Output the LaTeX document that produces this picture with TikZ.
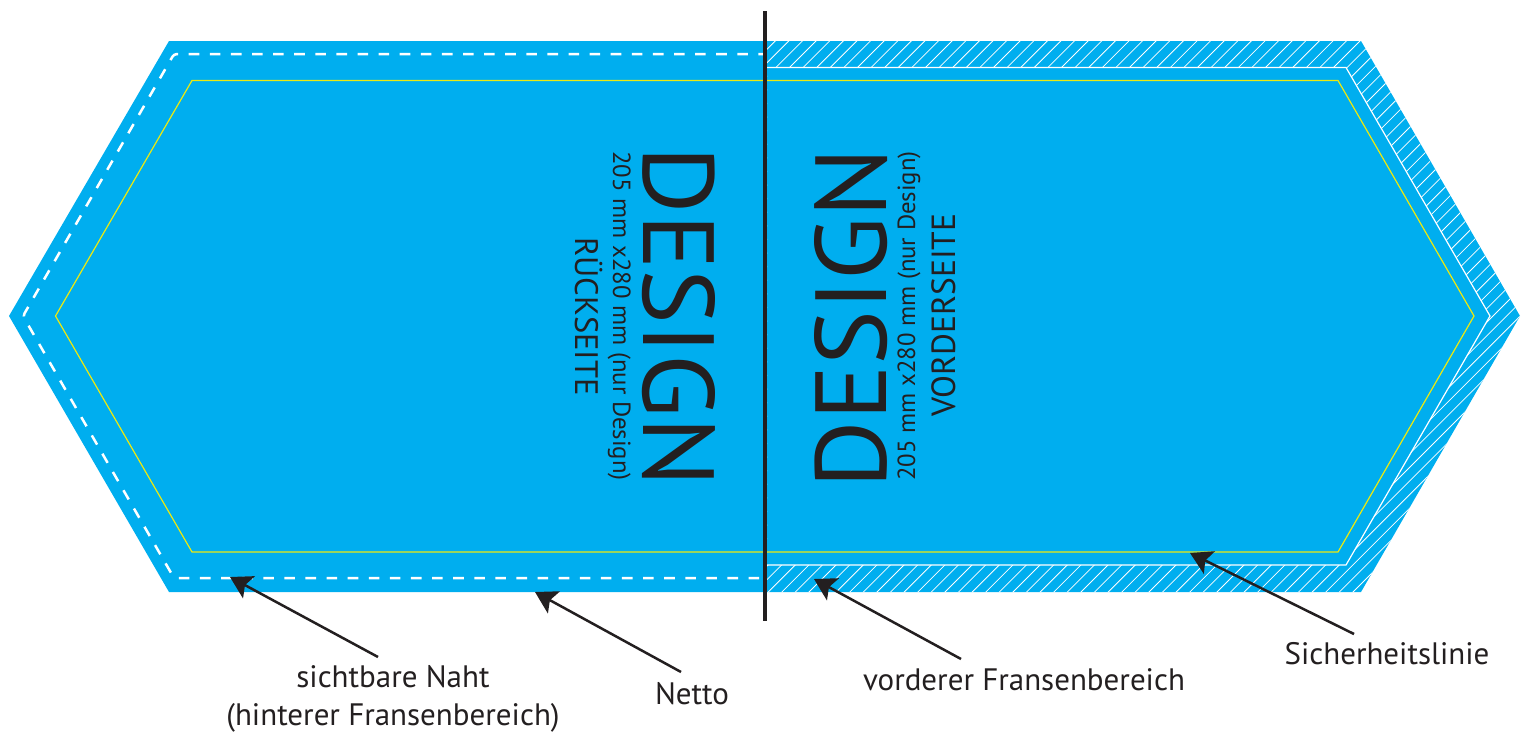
\documentclass[tikz,border=0pt]{standalone}
\usepackage{fontspec}
\setmainfont{PT Sans}
\usetikzlibrary{arrows.meta}
\definecolor{cyanfill}{HTML}{00AEEF}
\definecolor{ink}{HTML}{231F20}
\definecolor{safety}{HTML}{EDE90F}
\tikzset{
  x=1pt,y=-1pt,
  pointer/.style={draw=ink,line width=2.5pt,-{Stealth[length=21.5pt,width=25pt,inset=4.5pt]}},
  caption/.style={text=ink,font=\fontsize{31}{38}\selectfont,align=center,inner sep=0pt},
  hatchline/.style={draw=white,line width=.8pt},
  rotlabel/.style={text=ink,inner sep=0pt},
}
\begin{document}
\begin{tikzpicture}
\useasboundingbox (0,0) rectangle (1523,731);
% outer shape
\fill[cyanfill] (169,41) -- (1361,41) -- (1520,316) -- (1361,592) -- (169,592) -- (9,316) -- cycle;
% hatching in the front fringe area
\begin{scope}[even odd rule]
  \clip (767,41) -- (1361,41) -- (1520,316) -- (1361,592) -- (767,592) -- cycle
    (767,67.5) -- (1346,67.5) -- (1490,316) -- (1346,565) -- (767,565) -- cycle;
  \foreach \k in {-45,...,42}{
    \pgfmathsetmacro{\c}{1401+\k*13.6}
    \draw[hatchline] ({\c-20},20) -- ({\c-620},620);
  }
\end{scope}
\draw[white,line width=1.2pt] (767,67.5) -- (1346,67.5) -- (1490,316) -- (1346,565) -- (767,565);
% visible seam
\draw[white,line width=2.5pt,dash pattern=on 10.6pt off 10.5pt,dash phase=6pt,rounded corners=3pt]
  (763,54) -- (174,54) -- (23,316) -- (174,578) -- (763,578);
% safety line
\draw[safety,line width=1.2pt] (192,80.5) -- (1338,80.5) -- (1474,316) -- (1338,552) -- (192,552) -- (55.5,316) -- cycle;
% divider
\coordinate (divTop) at (765,11);
\coordinate (divBot) at (765,621);
\draw[ink,line width=4.5pt] (divTop) -- (divBot);
% rotated texts
\node[rotlabel,rotate=-90] (designL) at (678.5,317) {\resizebox{340pt}{72pt}{DESIGN}};
\node[rotlabel,rotate=90] (designR) at (851.5,318) {\resizebox{340pt}{72pt}{DESIGN}};
\node[rotlabel,rotate=-90,anchor=base] (sizeL) at (613,316) {\fontsize{24.8}{30}\selectfont 205 mm x280 mm (nur Design)};
\node[rotlabel,rotate=90,anchor=base] (sizeR) at (915,316) {\fontsize{24.8}{30}\selectfont 205 mm x280 mm (nur Design)};
\node[rotlabel,rotate=-90,anchor=base] (rueck) at (575,316.5) {\fontsize{32.5}{38}\selectfont RÜCKSEITE};
\node[rotlabel,rotate=90,anchor=base] (vorder) at (955,315) {\fontsize{33.5}{38}\selectfont VORDERSEITE};
% captions
\node[caption] (naht) at (393,698.5) {sichtbare Naht\\(hinterer Fransenbereich)};
\node[caption] (netto) at (692,694) {Netto};
\node[caption] (vorn) at (1024,680) {vorderer Fransenbereich};
\node[caption] (sicher) at (1387,654) {Sicherheitslinie};
% arrows
\coordinate (nahtFrom) at (378,657);
\coordinate (nahtTip) at (230,577);
\coordinate (nettoFrom) at (681,672);
\coordinate (nettoTip) at (535,592);
\coordinate (vornFrom) at (961,659);
\coordinate (vornTip) at (814,579);
\coordinate (sicherFrom) at (1354,634);
\coordinate (sicherTip) at (1190,553);
\draw[pointer] (nahtFrom) -- (nahtTip);
\draw[pointer] (nettoFrom) -- (nettoTip);
\draw[pointer] (vornFrom) -- (vornTip);
\draw[pointer] (sicherFrom) -- (sicherTip);
\end{tikzpicture}
\end{document}
